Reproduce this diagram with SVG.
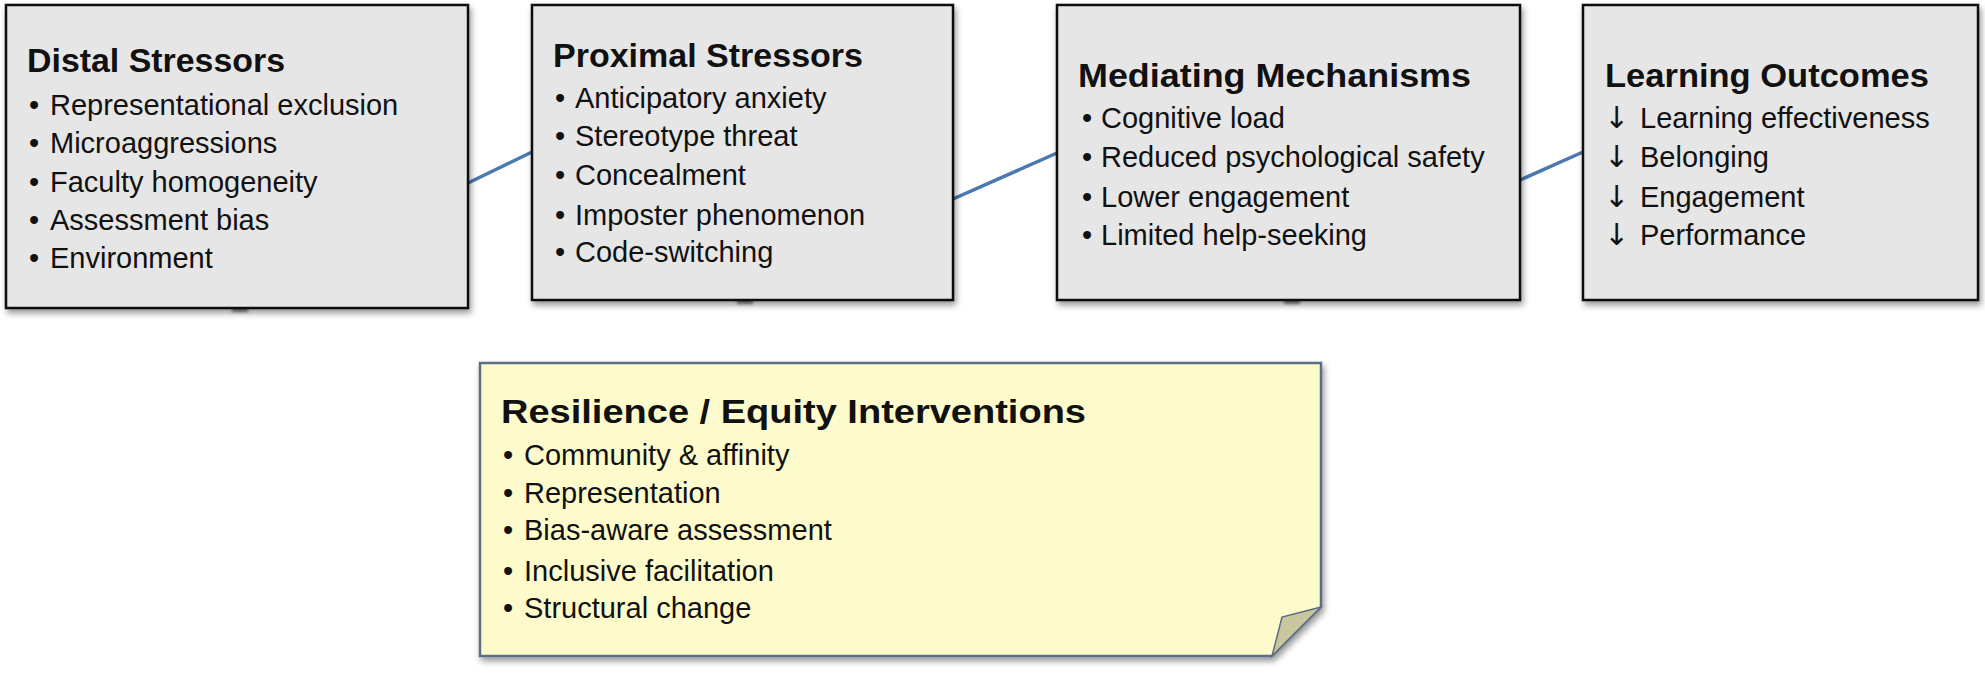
<svg xmlns="http://www.w3.org/2000/svg" width="1985" height="674" viewBox="0 0 1985 674">
<defs>
<filter id="shadow" x="-5%" y="-5%" width="112%" height="120%">
<feDropShadow dx="2" dy="4" stdDeviation="3" flood-color="#000" flood-opacity="0.4"/>
</filter>
<filter id="blur" x="-50%" y="-50%" width="200%" height="200%">
<feGaussianBlur stdDeviation="1.5"/>
</filter>
<style>
.box{fill:#e6e6e6;stroke:#111;stroke-width:2.5}
.note{fill:#fdfbcb;stroke:#5b6e84;stroke-width:2.5}
.fold{fill:#c9c69e;stroke:#5b6e84;stroke-width:1.5}
.title{font-family:"Liberation Sans",Arial,sans-serif;font-weight:bold;font-size:34px;fill:#111}
.item{font-family:"Liberation Sans",Arial,sans-serif;font-size:29px;fill:#111}
.arr{font-family:"DejaVu Sans",sans-serif;font-size:30px}
.conn{stroke:#4a78b0;stroke-width:3.5;fill:none}
.stub{fill:#555;opacity:0.7}
</style>
</defs>
<rect width="1985" height="674" fill="#fff"/>
<g id="connectors">
<line class="conn" x1="468" y1="183" x2="532" y2="152"/>
<line class="conn" x1="953" y1="199" x2="1057" y2="153"/>
<line class="conn" x1="1520" y1="180" x2="1583" y2="152"/>
<rect class="stub" x="232" y="306" width="16" height="6" filter="url(#blur)"/>
<rect class="stub" x="737" y="298" width="16" height="6" filter="url(#blur)"/>
<rect class="stub" x="1284" y="298" width="16" height="6" filter="url(#blur)"/>
</g>
<g id="distal">
<rect class="box" x="6" y="5" width="462" height="303" filter="url(#shadow)"/>
<text class="title" x="27" y="72" textLength="258" lengthAdjust="spacingAndGlyphs">Distal Stressors</text>
<text class="item" x="29" y="115">• <tspan x="50">Representational exclusion</tspan></text>
<text class="item" x="29" y="153">• <tspan x="50">Microaggressions</tspan></text>
<text class="item" x="29" y="192">• <tspan x="50">Faculty homogeneity</tspan></text>
<text class="item" x="29" y="230">• <tspan x="50">Assessment bias</tspan></text>
<text class="item" x="29" y="268">• <tspan x="50">Environment</tspan></text>
</g>
<g id="proximal">
<rect class="box" x="532" y="5" width="421" height="295" filter="url(#shadow)"/>
<text class="title" x="553" y="67" textLength="310" lengthAdjust="spacingAndGlyphs">Proximal Stressors</text>
<text class="item" x="555" y="108">• <tspan x="575">Anticipatory anxiety</tspan></text>
<text class="item" x="555" y="146">• <tspan x="575">Stereotype threat</tspan></text>
<text class="item" x="555" y="185">• <tspan x="575">Concealment</tspan></text>
<text class="item" x="555" y="225">• <tspan x="575">Imposter phenomenon</tspan></text>
<text class="item" x="555" y="262">• <tspan x="575">Code-switching</tspan></text>
</g>
<g id="mediating">
<rect class="box" x="1057" y="5" width="463" height="295" filter="url(#shadow)"/>
<text class="title" x="1078" y="87" textLength="393" lengthAdjust="spacingAndGlyphs">Mediating Mechanisms</text>
<text class="item" x="1082" y="128">• <tspan x="1101">Cognitive load</tspan></text>
<text class="item" x="1082" y="167">• <tspan x="1101">Reduced psychological safety</tspan></text>
<text class="item" x="1082" y="207">• <tspan x="1101">Lower engagement</tspan></text>
<text class="item" x="1082" y="245">• <tspan x="1101">Limited help-seeking</tspan></text>
</g>
<g id="outcomes">
<rect class="box" x="1583" y="5" width="395" height="295" filter="url(#shadow)"/>
<text class="title" x="1605" y="87" textLength="324" lengthAdjust="spacingAndGlyphs">Learning Outcomes</text>
<text class="item" x="1604" y="128"><tspan class="arr">↓</tspan> <tspan x="1640">Learning effectiveness</tspan></text>
<text class="item" x="1604" y="167"><tspan class="arr">↓</tspan> <tspan x="1640">Belonging</tspan></text>
<text class="item" x="1604" y="207"><tspan class="arr">↓</tspan> <tspan x="1640">Engagement</tspan></text>
<text class="item" x="1604" y="245"><tspan class="arr">↓</tspan> <tspan x="1640">Performance</tspan></text>
</g>
<g id="interventions">
<path class="note" d="M480,363 H1321 V607 L1272,656 H480 Z" filter="url(#shadow)"/>
<path class="fold" d="M1321,607 L1282,617 L1272,656 Z"/>
<text class="title" x="501" y="423" font-size="36" textLength="585" lengthAdjust="spacingAndGlyphs">Resilience / Equity Interventions</text>
<text class="item" x="503" y="465">• <tspan x="524">Community &amp; affinity</tspan></text>
<text class="item" x="503" y="503">• <tspan x="524">Representation</tspan></text>
<text class="item" x="503" y="540">• <tspan x="524">Bias-aware assessment</tspan></text>
<text class="item" x="503" y="581">• <tspan x="524">Inclusive facilitation</tspan></text>
<text class="item" x="503" y="618">• <tspan x="524">Structural change</tspan></text>
</g>
</svg>
